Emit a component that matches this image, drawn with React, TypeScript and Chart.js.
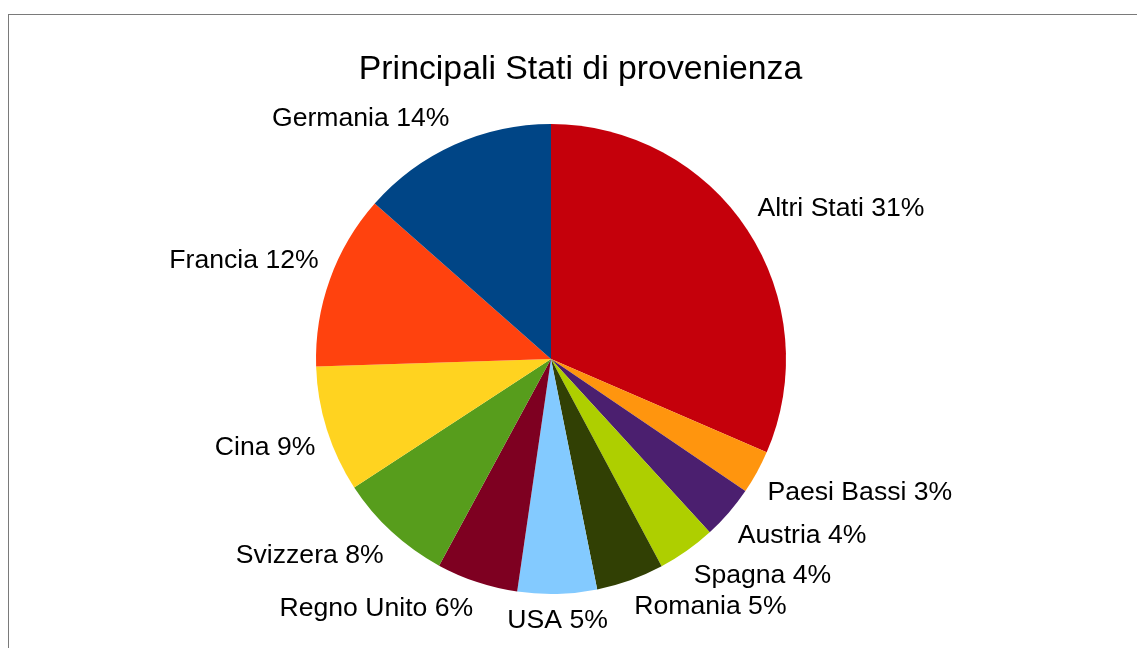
import React, { useEffect, useRef } from "react";
import { Chart, registerables } from "chart.js";

Chart.register(...registerables);

const TITLE = "Principali Stati di provenienza";
const countries = [
  "Altri Stati",
  "Paesi Bassi",
  "Austria",
  "Spagna",
  "Romania",
  "USA",
  "Regno Unito",
  "Svizzera",
  "Cina",
  "Francia",
  "Germania",
];
const shares = [31.5, 3.0, 3.7, 4.0, 4.65, 5.45, 5.6, 7.9, 8.7, 12.0, 13.5];
const shareLabels = ["31%", "3%", "4%", "4%", "5%", "5%", "6%", "8%", "9%", "12%", "14%"];
const colors = [
  "#c5000b",
  "#ff950e",
  "#4b1f6f",
  "#aecf00",
  "#314004",
  "#83caff",
  "#7e0021",
  "#579d1c",
  "#ffd320",
  "#ff420e",
  "#004586",
];

const FONT = '"Liberation Sans", Arial, sans-serif';

const decorPlugin = {
  id: "decor",
  beforeDraw(chart: any) {
    const ctx = chart.ctx;
    ctx.save();
    ctx.fillStyle = "#ffffff";
    ctx.fillRect(0, 0, chart.width, chart.height);
    ctx.strokeStyle = "#7a7a7a";
    ctx.lineWidth = 1;
    ctx.strokeRect(8.5, 14.5, chart.width + 20, chart.height + 20);
    ctx.fillStyle = "#000000";
    ctx.font = `33.8px ${FONT}`;
    ctx.textAlign = "center";
    ctx.textBaseline = "alphabetic";
    ctx.fillText(TITLE, 580.5, 79);
    ctx.restore();
  },
  afterDatasetsDraw(chart: any) {
    const ctx = chart.ctx;
    const meta = chart.getDatasetMeta(0);
    const boxH = 30;
    ctx.save();
    ctx.fillStyle = "#000000";
    ctx.font = `26.6px ${FONT}`;
    ctx.textBaseline = "middle";
    meta.data.forEach((arc: any, i: number) => {
      const p = arc.getProps(["x", "y", "startAngle", "endAngle", "outerRadius"], true);
      const mid = (p.startAngle + p.endAngle) / 2;
      const r = p.outerRadius + 12;
      const c = Math.cos(mid);
      const s = Math.sin(mid);
      const x = p.x + c * r;
      let y = p.y + s * r;
      ctx.textAlign = c > 0.1 ? "left" : c < -0.1 ? "right" : "center";
      if (s > 0.1) y += boxH / 2;
      else if (s < -0.1) y -= boxH / 2;
      ctx.fillText(`${countries[i]} ${shareLabels[i]}`, x, y);
    });
    ctx.restore();
  },
};

export default function App() {
  const ref = useRef<HTMLCanvasElement | null>(null);
  useEffect(() => {
    if (!ref.current) return;
    const chart = new Chart(ref.current, {
      type: "pie",
      data: {
        labels: countries,
        datasets: [
          {
            data: shares,
            backgroundColor: colors,
            borderWidth: 0,
          },
        ],
      },
      options: {
        responsive: false,
        animation: false,
        devicePixelRatio: 1,
        layout: { padding: { left: 316, right: 351, top: 124, bottom: 54 } },
        plugins: {
          legend: { display: false },
          tooltip: { enabled: false },
          title: { display: false },
        },
      },
      plugins: [decorPlugin],
    });
    return () => chart.destroy();
  }, []);
  return (
    <canvas
      ref={ref}
      width={1137}
      height={648}
      style={{ position: "fixed", left: 0, top: 0, width: 1137, height: 648 }}
    />
  );
}
